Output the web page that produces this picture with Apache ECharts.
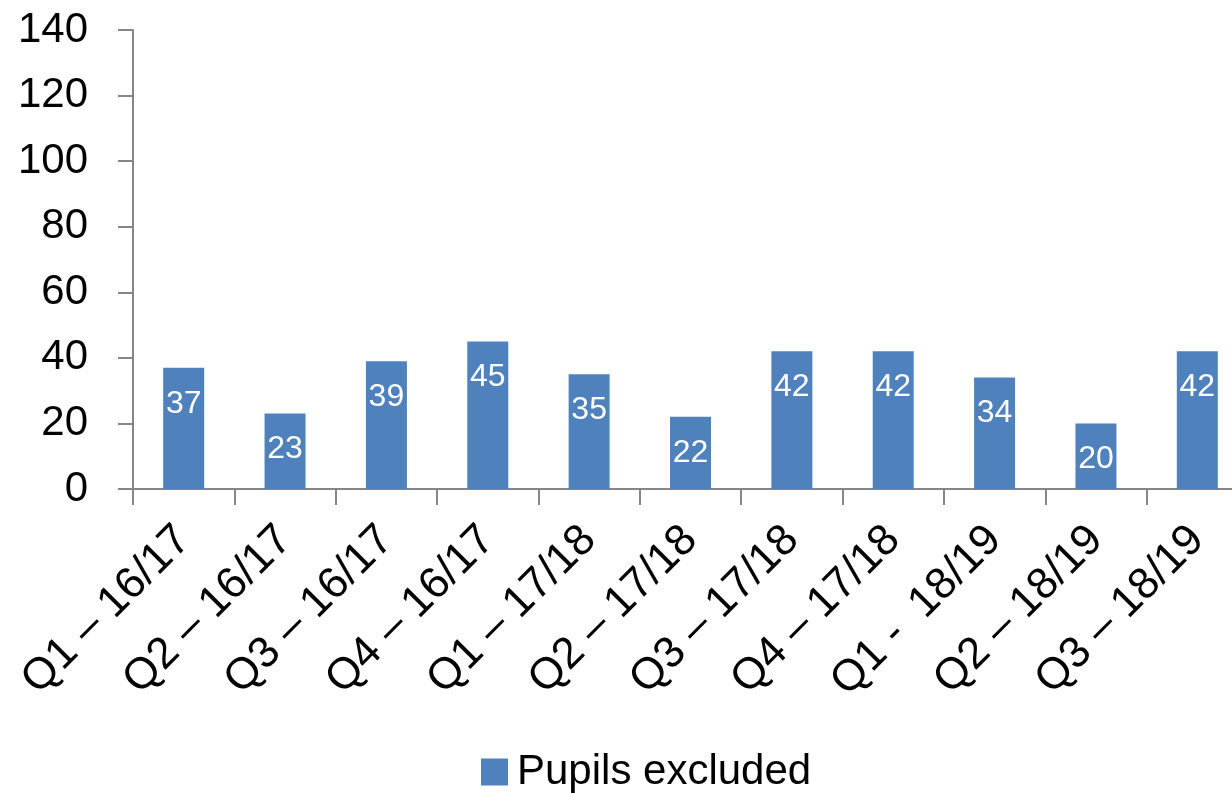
<!DOCTYPE html>
<html>
<head>
<meta charset="utf-8">
<script src="https://cdn.jsdelivr.net/npm/echarts@6/dist/echarts.min.js"></script>
<style>html,body{margin:0;padding:0;background:#fff;overflow:hidden;width:1232px;height:793px}#c{width:1248px;height:793px}</style>
</head>
<body>
<div id="c"></div>
<script>
const categories = ['Q1 – 16/17','Q2 – 16/17','Q3 – 16/17','Q4 – 16/17','Q1 – 17/18','Q2 – 17/18','Q3 – 17/18','Q4 – 17/18','Q1 -  18/19','Q2 – 18/19','Q3 – 18/19'];
const pupilsExcluded = [37, 23, 39, 45, 35, 22, 42, 42, 34, 20, 42];
const seriesName = 'Pupils excluded';

const font = 'Liberation Sans';
const chart = echarts.init(document.getElementById('c'));
chart.setOption({
  animation: false,
  textStyle: { fontFamily: font },
  grid: { left: 133, top: 30, right: 0, bottom: 304, containLabel: false },
  legend: {
    data: [seriesName], left: 476, top: 746, itemWidth: 27, itemHeight: 27, itemGap: 10,
    icon: 'rect',
    textStyle: { fontFamily: font, fontSize: 42, color: '#000', padding: [0,0,0,4] }
  },
  xAxis: {
    type: 'category', data: categories,
    axisLine: { lineStyle: { color: '#868686', width: 2 } },
    axisTick: { show: true, length: 16, lineStyle: { color: '#868686', width: 2 } },
    axisLabel: { rotate: 45, interval: 0, margin: 44, fontSize: 44, color: '#000', fontFamily: font }
  },
  yAxis: {
    type: 'value', min: 0, max: 140, interval: 20,
    splitLine: { show: false },
    axisLine: { show: true, lineStyle: { color: '#868686', width: 2 } },
    axisTick: { show: true, length: 15, lineStyle: { color: '#868686', width: 2 } },
    axisLabel: { margin: 45, fontSize: 42, color: '#000', fontFamily: font }
  },
  series: [{
    name: seriesName, type: 'bar', data: pupilsExcluded, barWidth: 41,
    itemStyle: { color: '#4F81BD' },
    label: { show: true, position: 'insideTop', distance: 20, color: '#fff', fontSize: 32, fontFamily: font }
  }]
});
</script>
</body>
</html>
